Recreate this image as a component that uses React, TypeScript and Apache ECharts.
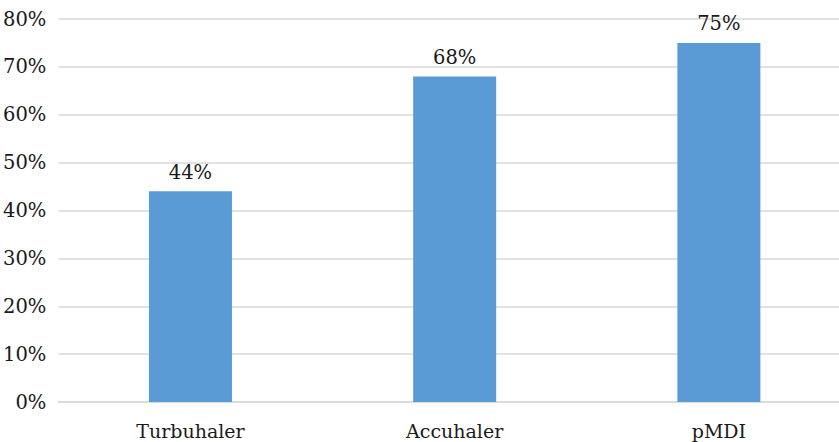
import React, { useEffect, useRef } from "react";
import * as echarts from "echarts";

const categories = ["Turbuhaler", "Accuhaler", "pMDI"];
const values = [44, 68, 75];
const yTicks = [0, 10, 20, 30, 40, 50, 60, 70, 80];

const SERIF = "DejaVu Serif";

export default function App() {
  const ref = useRef<HTMLDivElement>(null);
  useEffect(() => {
    if (!ref.current) return;
    const chart = echarts.init(ref.current, undefined, { renderer: "svg" });
    chart.setOption({
      animation: false,
      backgroundColor: "#ffffff",
      grid: { left: 56, top: 19, right: 0, bottom: 40, containLabel: false },
      xAxis: {
        type: "category",
        data: categories,
        axisLine: { show: true, lineStyle: { color: "#d9d9d9", width: 1.5 } },
        axisTick: { show: false },
        axisLabel: {
          margin: 19,
          color: "#1a1a1a",
          fontFamily: SERIF,
          fontSize: 19,
        },
      },
      yAxis: {
        type: "value",
        min: yTicks[0],
        max: yTicks[yTicks.length - 1],
        interval: 10,
        axisLine: { show: false },
        axisTick: { show: false },
        splitLine: { lineStyle: { color: "#d9d9d9", width: 1.5 } },
        axisLabel: {
          margin: 12,
          color: "#1a1a1a",
          fontFamily: SERIF,
          fontSize: 19.5,
          formatter: (v: number) => `${v}%`,
        },
      },
      series: [
        {
          type: "bar",
          data: values,
          barWidth: 83,
          itemStyle: { color: "#5b9bd5" },
          label: {
            show: true,
            position: "top",
            distance: 9,
            color: "#1a1a1a",
            fontFamily: SERIF,
            fontSize: 19.5,
            formatter: (p: any) => `${p.value}%`,
          },
        },
      ],
    });
    return () => chart.dispose();
  }, []);
  return (
    <div style={{ position: "absolute", left: 0, top: 0, width: 839, height: 442, overflow: "hidden" }}>
      <div ref={ref} style={{ width: 851, height: 442 }} />
    </div>
  );
}
